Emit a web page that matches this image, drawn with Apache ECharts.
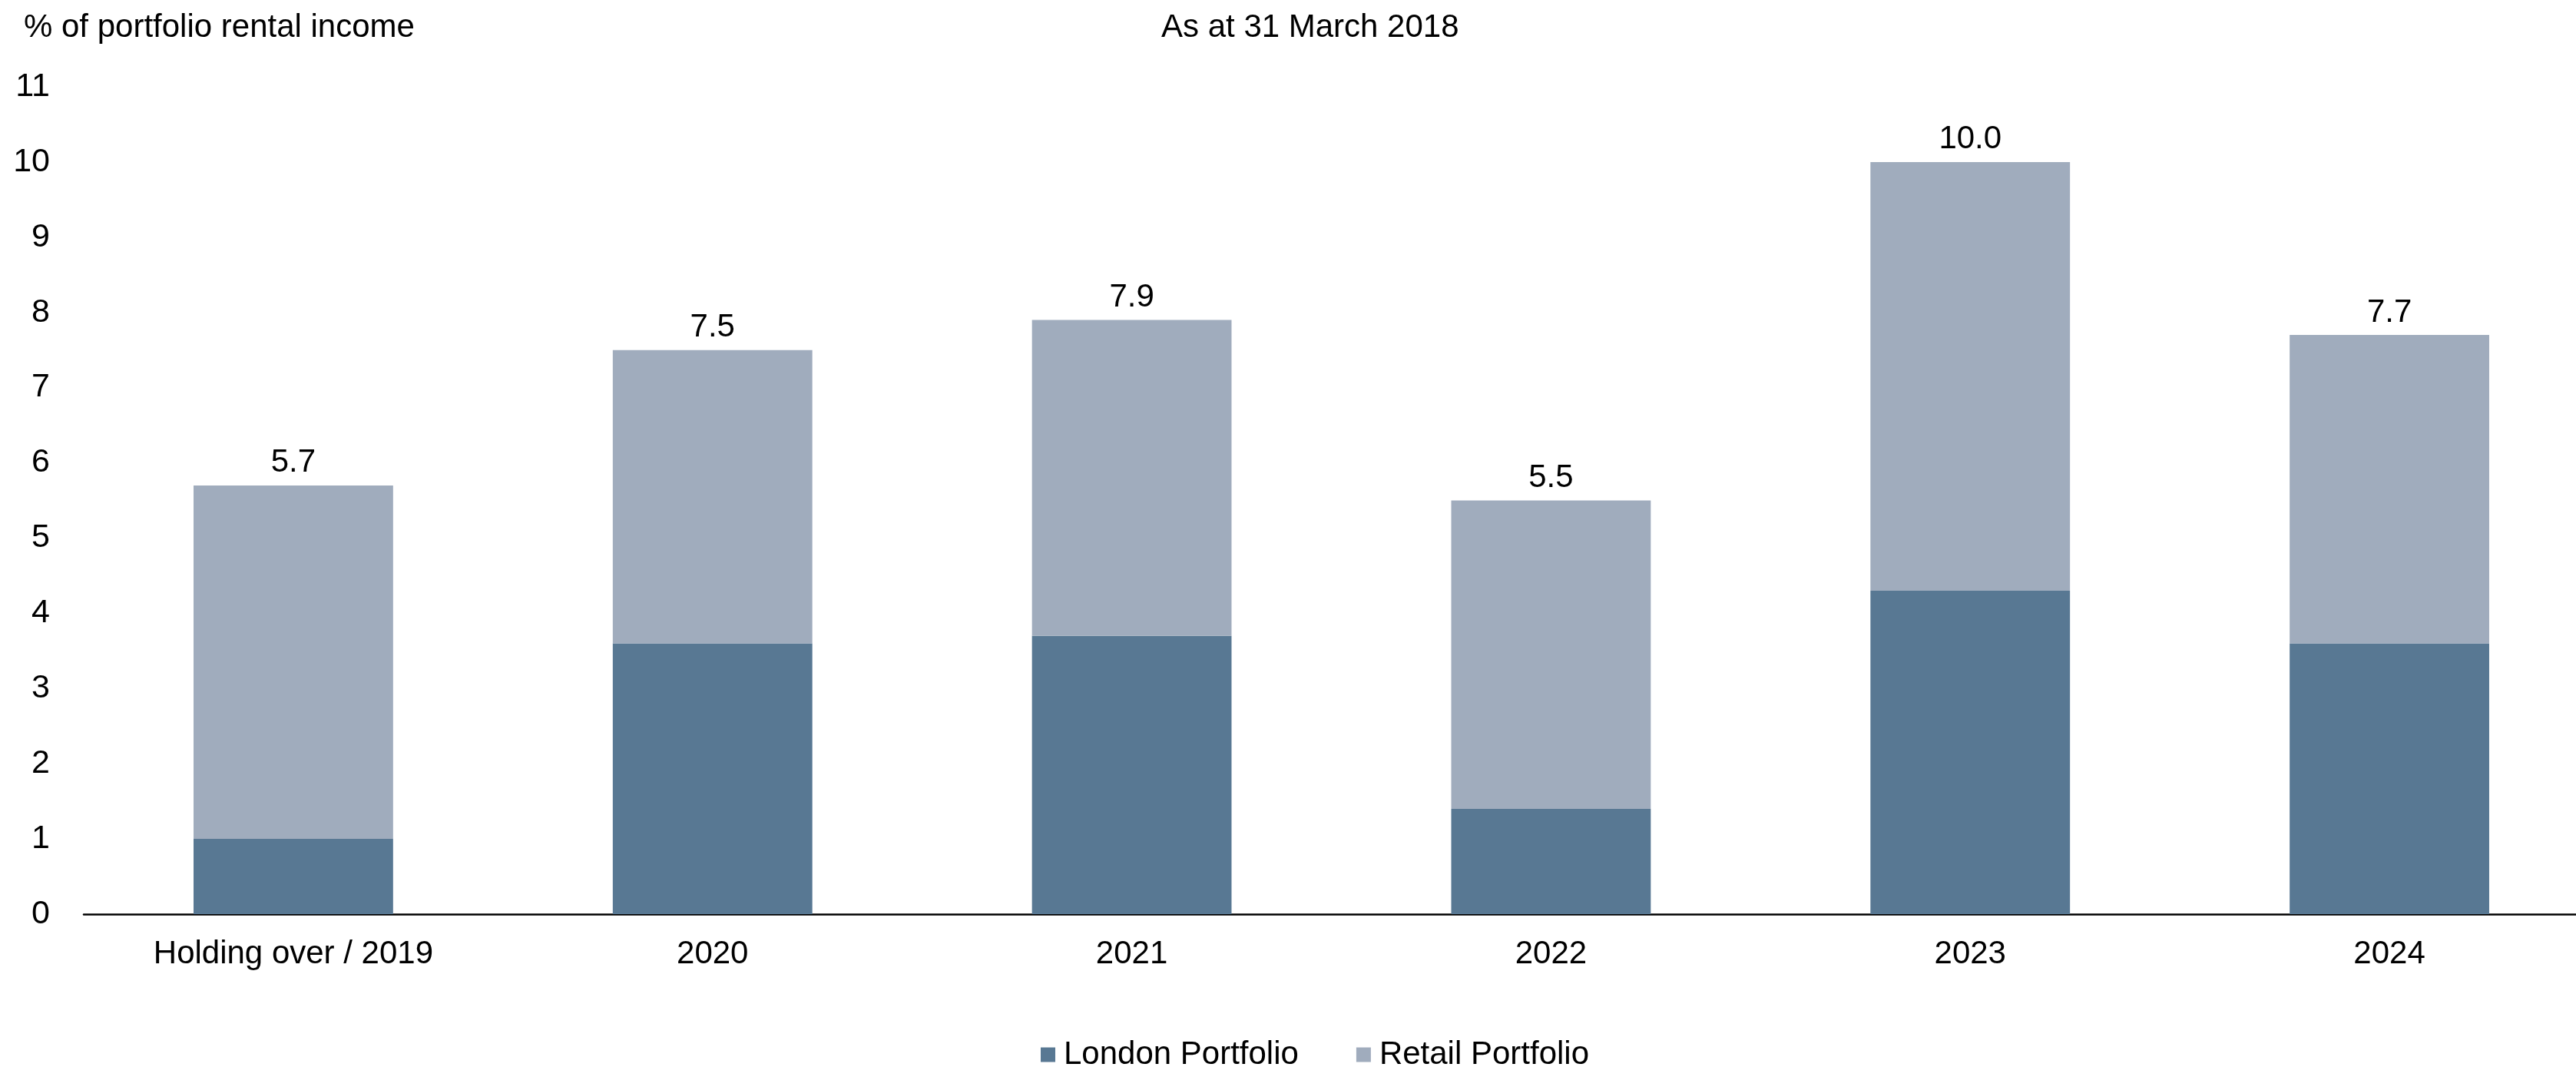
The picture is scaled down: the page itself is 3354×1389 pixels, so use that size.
<!DOCTYPE html>
<html>
<head>
<meta charset="utf-8">
<script src="https://cdn.jsdelivr.net/npm/echarts@6/dist/echarts.min.js"></script>
<style>
html,body{margin:0;padding:0;background:#fff;}
#chart{width:3354px;height:1389px;}
</style>
</head>
<body>
<div id="chart"></div>
<script>
const categories = ['Holding over / 2019', '2020', '2021', '2022', '2023', '2024'];
const londonValues = [1.0, 3.6, 3.7, 1.4, 4.3, 3.6];
const retailValues = [4.7, 3.9, 4.2, 4.1, 5.7, 4.1];
const totalLabels = ['5.7', '7.5', '7.9', '5.5', '10.0', '7.7'];
const yTicks = [0, 1, 2, 3, 4, 5, 6, 7, 8, 9, 10, 11];

const FONT = '"Liberation Sans", Arial, sans-serif';
const chart = echarts.init(document.getElementById('chart'));
chart.setOption({
  animation: false,
  backgroundColor: '#ffffff',
  textStyle: { fontFamily: FONT },
  title: [
    { text: '% of portfolio rental income', left: 26, top: 10,
      textStyle: { fontFamily: FONT, fontSize: 42, fontWeight: 'normal', color: '#000' } },
    { text: 'As at 31 March 2018', left: 1507, top: 10,
      textStyle: { fontFamily: FONT, fontSize: 42, fontWeight: 'normal', color: '#000' } }
  ],
  legend: {
    left: 1350, top: 1347,
    itemWidth: 19, itemHeight: 19, itemGap: 75,
    icon: 'rect',
    textStyle: { fontFamily: FONT, fontSize: 42, color: '#000', padding: [0, 0, 0, 6] },
    data: ['London Portfolio', 'Retail Portfolio']
  },
  grid: { left: 109, right: -30, top: 113, bottom: 199, containLabel: false, outerBoundsMode: 'none' },
  xAxis: {
    type: 'category',
    data: categories,
    axisLine: { show: true, lineStyle: { color: '#000', width: 2.5 } },
    axisTick: { show: false },
    axisLabel: { fontFamily: FONT, fontSize: 42, color: '#000', margin: 31 }
  },
  yAxis: {
    type: 'value',
    min: yTicks[0], max: yTicks[yTicks.length - 1], interval: 1,
    axisLine: { show: false },
    axisTick: { show: false },
    splitLine: { show: false },
    axisLabel: { fontFamily: FONT, fontSize: 43, color: '#000', margin: 44 }
  },
  series: [
    {
      name: 'London Portfolio', type: 'bar', stack: 'total',
      data: londonValues, barWidth: '47.6%',
      itemStyle: { color: '#587893' }
    },
    {
      name: 'Retail Portfolio', type: 'bar', stack: 'total',
      data: retailValues, barWidth: '47.6%',
      itemStyle: { color: '#a0acbd' },
      label: {
        show: true, position: 'top', distance: 8,
        fontFamily: FONT, fontSize: 42, color: '#000',
        formatter: p => totalLabels[p.dataIndex]
      }
    }
  ]
});
</script>
</body>
</html>
